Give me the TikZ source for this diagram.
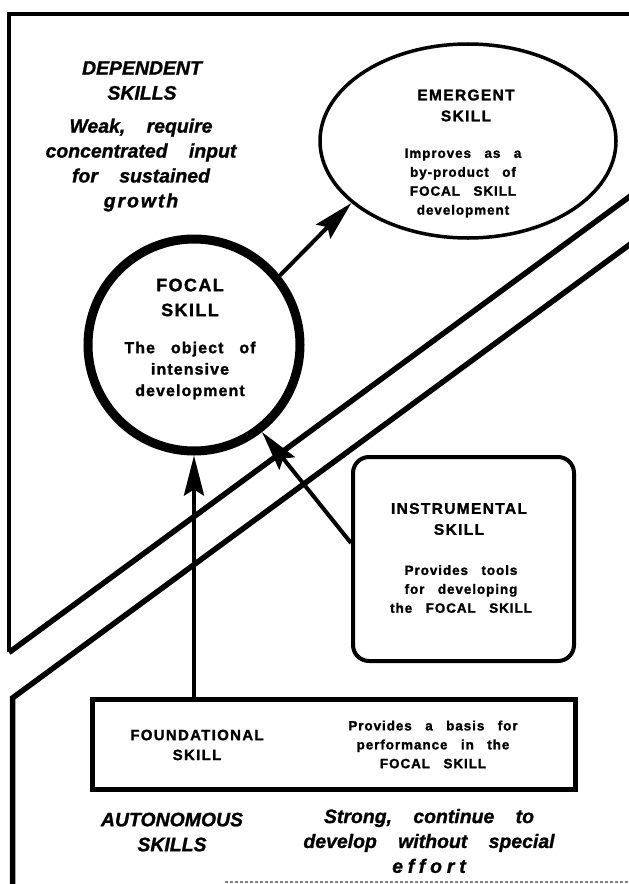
\documentclass[tikz,border=0pt]{standalone}
\usepackage{fontspec}
\setmainfont{Liberation Sans}
\usetikzlibrary{shapes.geometric,arrows.meta}
\newcommand\mywsp[1]{\spaceskip=#1\relax}
\newcommand\fbig{\fontsize{19.5}{25}\selectfont\bfseries\itshape\addfontfeatures{FakeBold=1.2}\mywsp{1.1em}}
\newcommand\fhd{\fontsize{15.5}{21}\selectfont\bfseries\addfontfeatures{LetterSpace=9,FakeBold=1.5}\mywsp{0.8em}}
\newcommand\fsm{\fontsize{13.5}{19}\selectfont\bfseries\addfontfeatures{LetterSpace=7,FakeBold=1.5}\mywsp{1em}}
\newcommand\ffohd{\fontsize{18}{25}\selectfont\bfseries\addfontfeatures{LetterSpace=8,FakeBold=1.5}}
\newcommand\ffodesc{\fontsize{16}{21.5}\selectfont\bfseries\addfontfeatures{LetterSpace=7,FakeBold=1.5}\mywsp{1em}}
\newcommand\ffdhd{\fontsize{15}{20}\selectfont\bfseries\addfontfeatures{LetterSpace=9,FakeBold=1.5}}
\tikzset{
  big/.style={font=\fbig, align=center, inner sep=0pt},
  hd/.style={font=\fhd, align=center, inner sep=0pt},
  sm/.style={font=\fsm, align=center, inner sep=0pt},
  border/.style={line width=3.5bp, line join=miter},
  divider/.style={line width=5.5bp, line join=miter},
  arr/.style={line width=4bp, -{Stealth[length=40bp, width=20bp, inset=6bp]}},
}
\begin{document}
\begin{tikzpicture}[x=1bp,y=-1bp]
\useasboundingbox (0,0) rectangle (629,884);
% region borders
\draw[border] (640,14) -- (9,14) -- (9,652);
\draw[divider] (9,652.5) -- (640,189);
\draw[divider] (12.5,890) -- (12.5,698) -- (640,237);
\draw[gray, line width=1.2bp, dash pattern=on 3bp off 2bp] (225,882) -- (629,882);
% shapes
\node[ellipse, draw, line width=3.5bp, minimum width=296bp, minimum height=194bp, inner sep=0pt] (emergent) at (468,141) {};
\node[circle, draw, line width=9bp, minimum size=212bp, inner sep=0pt] (focal) at (194,345) {};
\node[draw, rounded corners=16bp, line width=4bp, minimum width=221bp, minimum height=204bp, inner sep=0pt] (instr) at (463.5,559) {};
\node[draw, line width=5bp, minimum width=483bp, minimum height=90bp, inner sep=0pt] (found) at (334,744.5) {};
% connectors
\draw[arr] (focal.39.8) -- (emergent.208.4);
\draw[arr] ([yshift=16bp]instr.west) -- (focal.-52.7);
\draw[arr] (found.north -| focal.south) -- (focal.south);
% texts
\node[big] (dephd) at (142,80.5) {DEPENDENT\\SKILLS};
\node[big] (depdesc) at (141,165) {Weak, require\\concentrated input\\for sustained\\{\addfontfeatures{LetterSpace=10}growth}};
\node[hd] (emhd) at (466,105.5) {EMERGENT\\SKILL};
\node[sm] (emdesc) at (463,183) {Improves as a\\by-product of\\FOCAL SKILL\\development};
\node[hd, font=\ffohd] (fohd) at (190,297.5) {FOCAL\\SKILL};
\node[sm, font=\ffodesc] (fodesc) at (190,370.5) {The object of\\intensive\\development};
\node[hd] (inhd) at (459,519) {INSTRUMENTAL\\SKILL};
\node[sm] (indesc) at (461,589) {Provides tools\\for developing\\the FOCAL SKILL};
\node[hd, font=\ffdhd] (fdhd) at (197,745) {FOUNDATIONAL\\SKILL};
\node[sm] (fddesc) at (433,744.5) {Provides a basis for\\performance in the\\FOCAL SKILL};
\node[big] (authd) at (172,832) {AUTONOMOUS\\SKILLS};
\node[big] (autdesc) at (429,841) {Strong, continue to\\develop without special\\{\addfontfeatures{LetterSpace=25}effort}};
\end{tikzpicture}
\end{document}
